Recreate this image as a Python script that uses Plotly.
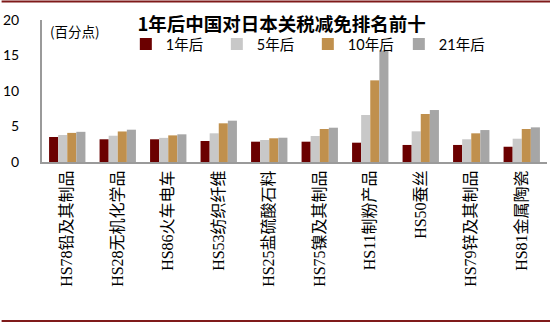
import plotly.graph_objects as go

categories = ["HS78铅及其制品", "HS28无机化学品", "HS86火车电车", "HS53纺织纤维", "HS25盐硫酸石料",
              "HS75镍及其制品", "HS11制粉产品", "HS50蚕丝", "HS79锌及其制品", "HS81金属陶瓷"]
series_names = ["1年后", "5年后", "10年后", "21年后"]
yr1 = [3.52, 3.2, 3.2, 2.96, 2.86, 2.86, 2.72, 2.4, 2.4, 2.15]
yr5 = [3.8, 3.7, 3.4, 4.04, 3.1, 3.66, 6.62, 4.32, 3.2, 3.28]
yr10 = [4.1, 4.3, 3.75, 5.45, 3.34, 4.65, 11.5, 6.76, 4.04, 4.65]
yr21 = [4.25, 4.55, 3.9, 5.82, 3.42, 4.83, 15.7, 7.32, 4.5, 4.88]
colors = ["#6B0000", "#C8C8C8", "#C0904D", "#A6A6A6"]
y_ticks = [0, 5, 10, 15, 20]

fig = go.Figure()
for name, vals, c in zip(series_names, [yr1, yr5, yr10, yr21], colors):
    fig.add_trace(go.Bar(x=categories, y=vals, name=name, marker=dict(color=c, line=dict(width=0))))

cjk = "Noto Sans CJK SC"
fig.update_layout(
    width=550, height=324,
    margin=dict(l=37, r=3, t=20, b=162),
    paper_bgcolor="white", plot_bgcolor="white",
    barmode="group", bargap=0.28, bargroupgap=0,
    title=dict(text="<b>1年后中国对日本关税减免排名前十</b>", x=0.512, xanchor="center",
               y=0.925, yanchor="middle", font=dict(family=cjk, size=18.5, color="black")),
    legend=dict(orientation="h", x=0.166, xanchor="left", y=0.944, yanchor="top",
                font=dict(family="Lato, " + cjk, size=14.5, color="black"),
                entrywidth=46, entrywidthmode="pixels", itemwidth=30,
                bgcolor="rgba(0,0,0,0)", traceorder="normal"),
    showlegend=True,
)
fig.update_yaxes(range=[0, 20], tickvals=y_ticks, showgrid=False, zeroline=False,
                 showline=True, linecolor="#9A9A9A", linewidth=2, ticks="",
                 ticklabelstandoff=18,
                 tickfont=dict(family="Lato", size=14, color="black"))
fig.update_xaxes(showline=True, linecolor="#9A9A9A", linewidth=2, ticks="", tickangle=-90,
                 showgrid=False,
                 tickfont=dict(family="Liberation Serif, " + cjk, size=16, color="black"))

fig.add_annotation(text="(百分点)", xref="paper", yref="paper", x=0.012, y=0.92,
                   xanchor="left", yanchor="middle", showarrow=False,
                   font=dict(family=cjk, size=13.5, color="black"))
# top and bottom report border lines
fig.add_shape(type="line", xref="paper", yref="paper", x0=-0.08, x1=1.01, y0=1.13, y1=1.13,
              line=dict(color="#7F1A1A", width=2))
fig.add_shape(type="line", xref="paper", yref="paper", x0=-0.08, x1=1.01, y0=-1.12, y1=-1.12,
              line=dict(color="#7F1A1A", width=2))

fig.write_html("out.html")
